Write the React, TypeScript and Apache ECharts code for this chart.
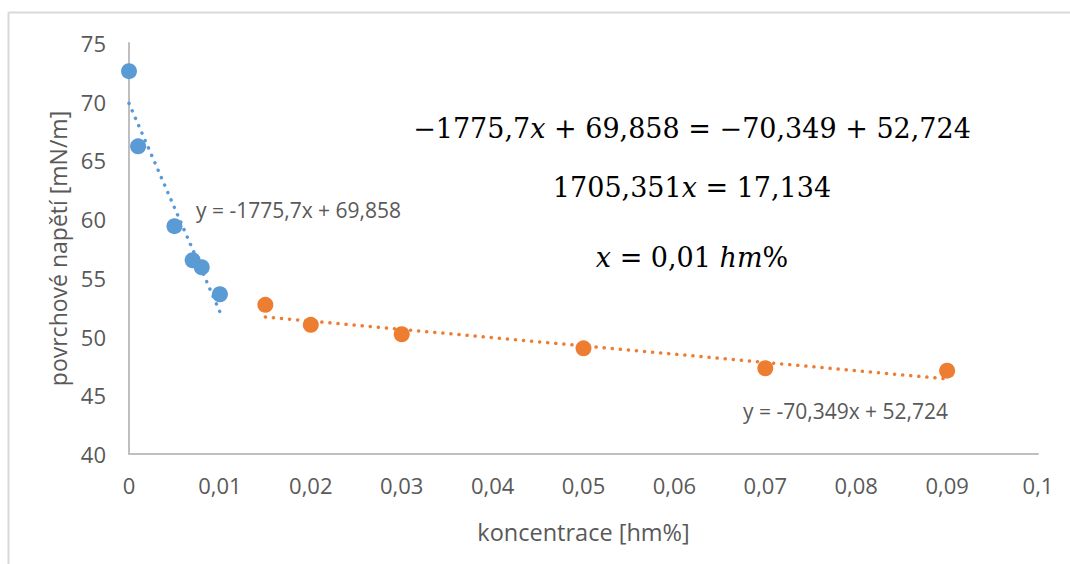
import React, { useEffect, useRef } from "react";
import * as echarts from "echarts";

const blueX = [0, 0.001, 0.005, 0.007, 0.008, 0.01];
const blueY = [72.6, 66.2, 59.4, 56.5, 55.9, 53.6];
const orangeX = [0.015, 0.02, 0.03, 0.05, 0.07, 0.09];
const orangeY = [52.7, 51.0, 50.2, 49.0, 47.3, 47.1];
const blueTrendX = [0, 0.01];
const blueTrendY = [69.858, 52.101];
const orangeTrendX = [0.015, 0.09];
const orangeTrendY = [51.669, 46.393];
const xTickLabels = ["0", "0,01", "0,02", "0,03", "0,04", "0,05", "0,06", "0,07", "0,08", "0,09", "0,1"];
const yTickLabels = ["40", "45", "50", "55", "60", "65", "70", "75"];
const blueEquation = "y = -1775,7x + 69,858";
const orangeEquation = "y = -70,349x + 52,724";
const calcLines = [
  "−1775,7{i|x} + 69,858 = −70,349 + 52,724",
  "1705,351{i|x} = 17,134",
  "{i|x} = 0,01 {i|hm}%",
];

const BLUE = "#5B9BD5";
const ORANGE = "#ED7D31";
const GRAY = "#595959";
const FONT = "Open Sans";

const zip = (xs: number[], ys: number[]) => xs.map((x, i) => [x, ys[i]]);

export default function App() {
  const ref = useRef<HTMLDivElement>(null);
  useEffect(() => {
    if (!ref.current) return;
    const chart = echarts.init(ref.current, undefined, { renderer: "svg" });
    const mathStyle = (text: string, y: number) => ({
      type: "text",
      x: 692,
      y,
      style: {
        text,
        fontFamily: "DejaVu Serif",
        fontSize: 27,
        fill: "#000",
        align: "center",
        verticalAlign: "middle",
        rich: {
          i: { fontStyle: "italic", fontFamily: "DejaVu Serif", fontSize: 27, fill: "#000" },
        },
      },
    });
    chart.setOption({
      animation: false,
      backgroundColor: "#ffffff",
      grid: { left: 129, right: 32, top: 43, bottom: 110 },
      xAxis: {
        type: "value",
        min: 0,
        max: 0.1,
        interval: 0.01,
        name: "koncentrace [hm%]",
        nameLocation: "middle",
        nameGap: 66,
        nameTextStyle: { color: GRAY, fontSize: 23.5, fontFamily: FONT },
        axisLine: { show: true, onZero: false, lineStyle: { color: "#bfbfbf", width: 2 } },
        axisTick: { show: false },
        splitLine: { show: false },
        axisLabel: {
          color: GRAY,
          fontSize: 22,
          fontFamily: FONT,
          margin: 20,
          formatter: (v: number) => xTickLabels[Math.round(v / 0.01)],
        },
      },
      yAxis: {
        type: "value",
        min: 40,
        max: 75,
        interval: 5,
        name: "povrchové napětí [mN/m]",
        nameLocation: "middle",
        nameGap: 56,
        nameTextStyle: { color: GRAY, fontSize: 23, fontFamily: FONT },
        axisLine: { show: true, onZero: false, lineStyle: { color: "#bfbfbf", width: 2 } },
        axisTick: { show: false },
        splitLine: { show: false },
        axisLabel: {
          color: GRAY,
          fontSize: 22,
          fontFamily: FONT,
          margin: 23,
          formatter: (v: number) => yTickLabels[Math.round((v - 40) / 5)],
        },
      },
      series: [
        {
          type: "line",
          data: zip(blueTrendX, blueTrendY),
          showSymbol: false,
          symbol: "none",
          lineStyle: { color: BLUE, width: 3.5, type: [0.1, 8], cap: "round" },
          z: 1,
        },
        {
          type: "line",
          data: zip(orangeTrendX, orangeTrendY),
          showSymbol: false,
          symbol: "none",
          lineStyle: { color: ORANGE, width: 3.5, type: [0.1, 8], cap: "round" },
          z: 1,
        },
        {
          type: "scatter",
          data: zip(blueX, blueY),
          symbolSize: 16,
          itemStyle: { color: BLUE, opacity: 1 },
          z: 3,
        },
        {
          type: "scatter",
          data: zip(orangeX, orangeY),
          symbolSize: 16,
          itemStyle: { color: ORANGE, opacity: 1 },
          z: 3,
        },
      ],
      graphic: [
        { type: "line", shape: { x1: 8.5, y1: 12.5, x2: 1070, y2: 12.5 }, style: { stroke: "#d9d9d9", lineWidth: 2 } },
        { type: "line", shape: { x1: 8.5, y1: 12.5, x2: 8.5, y2: 564 }, style: { stroke: "#d9d9d9", lineWidth: 2 } },
        {
          type: "text",
          x: 196,
          y: 210,
          style: { text: blueEquation, fontFamily: FONT, fontSize: 21, fill: GRAY, align: "left", verticalAlign: "middle" },
        },
        {
          type: "text",
          x: 743,
          y: 411,
          style: { text: orangeEquation, fontFamily: FONT, fontSize: 21, fill: GRAY, align: "left", verticalAlign: "middle" },
        },
        mathStyle(calcLines[0], 128),
        mathStyle(calcLines[1], 187),
        mathStyle(calcLines[2], 257),
      ],
    });
    return () => chart.dispose();
  }, []);
  return <div ref={ref} style={{ position: "absolute", left: 0, top: 0, width: 1070, height: 564 }} />;
}
